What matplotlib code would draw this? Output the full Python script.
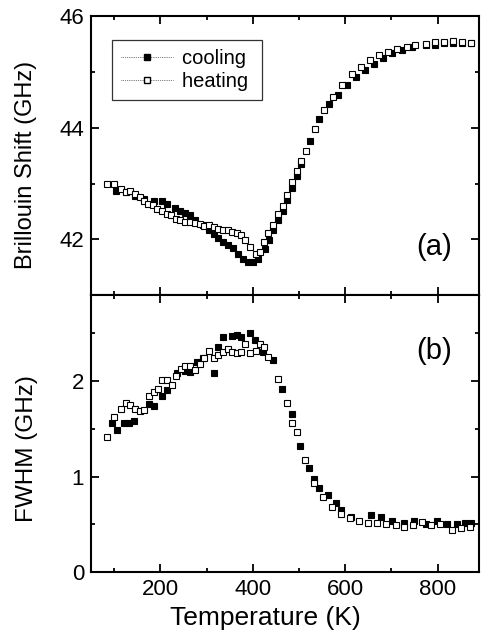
import matplotlib
matplotlib.use("Agg")
import matplotlib.pyplot as plt
from matplotlib.lines import Line2D
from matplotlib.ticker import MultipleLocator

plt.rcParams["font.family"] = ["Liberation Sans", "DejaVu Sans"]

# ================= DATA =================
# (a) Brillouin shift, heating (open squares)
heat_T_a = [85, 100, 114, 125, 135, 146, 155, 164, 173, 184, 193, 204, 214, 224, 234,
            243, 254, 265, 275, 286, 295, 305, 316, 325, 336, 346, 356, 365, 374, 384,
            395, 408, 415, 424, 434, 444, 455, 465, 475, 485, 495, 505, 515, 535, 555,
            574, 594, 614, 634, 654, 673, 693, 713, 733, 752, 774, 794, 813, 833, 852, 873]
heat_S_a = [42.99, 42.99, 42.90, 42.84, 42.86, 42.81, 42.75, 42.69, 42.63, 42.62, 42.54,
            42.51, 42.45, 42.43, 42.37, 42.34, 42.31, 42.31, 42.29, 42.28, 42.23, 42.25,
            42.22, 42.19, 42.16, 42.16, 42.14, 42.11, 42.07, 41.98, 41.86, 41.74, 41.77,
            41.95, 42.11, 42.26, 42.46, 42.59, 42.80, 43.02, 43.23, 43.41, 43.59, 43.98,
            44.31, 44.55, 44.76, 44.96, 45.09, 45.21, 45.30, 45.36, 45.41, 45.45, 45.48,
            45.50, 45.54, 45.54, 45.55, 45.53, 45.51]

# (a) Brillouin shift, cooling (filled squares)
cool_T_a = [103, 125, 146, 164, 186, 204, 214, 232, 243, 254, 265, 275, 293, 305, 316,
            325, 336, 347, 358, 368, 379, 390, 401, 412, 426, 435, 444, 455, 465, 475,
            485, 495, 505, 524, 544, 564, 584, 603, 623, 643, 662, 682, 702, 723, 745,
            774, 794, 813, 833, 852, 873]
cool_S_a = [42.87, 42.84, 42.78, 42.72, 42.69, 42.68, 42.63, 42.57, 42.51, 42.47, 42.43,
            42.34, 42.25, 42.16, 42.10, 42.02, 41.95, 41.89, 41.84, 41.74, 41.65, 41.59,
            41.59, 41.65, 41.83, 41.99, 42.16, 42.34, 42.51, 42.71, 42.92, 43.14, 43.35,
            43.77, 44.16, 44.43, 44.58, 44.76, 44.91, 45.03, 45.15, 45.24, 45.33, 45.39,
            45.45, 45.48, 45.48, 45.51, 45.52, 45.52, 45.51]

# (b) FWHM, heating (open squares)
heat_T_b = [85, 100, 114, 125, 135, 146, 155, 164, 175, 186, 195, 204, 214, 225, 234,
            244, 254, 265, 275, 286, 295, 305, 316, 325, 336, 346, 356, 365, 374, 384,
            395, 408, 415, 424, 434, 455, 475, 485, 495, 514, 533, 552, 572, 592, 611,
            631, 650, 670, 689, 709, 728, 747, 767, 786, 805, 831, 851, 870]
heat_F_b = [1.42, 1.63, 1.71, 1.77, 1.75, 1.71, 1.69, 1.70, 1.84, 1.89, 1.92, 2.01,
            2.01, 1.96, 2.05, 2.13, 2.16, 2.16, 2.12, 2.18, 2.24, 2.32, 2.24, 2.27, 2.31,
            2.34, 2.31, 2.29, 2.31, 2.39, 2.29, 2.32, 2.39, 2.36, 2.25, 2.02, 1.77, 1.56,
            1.47, 1.18, 0.93, 0.79, 0.68, 0.61, 0.57, 0.54, 0.52, 0.52, 0.50, 0.49, 0.47,
            0.49, 0.53, 0.49, 0.51, 0.44, 0.46, 0.47]

# (b) FWHM, cooling (filled squares)
cool_T_b = [95, 105, 122, 132, 143, 175, 186, 204, 214, 236, 254, 265, 279, 293, 315,
            325, 336, 354, 365, 375, 393, 404, 422, 444, 464, 484, 503, 522, 533, 543,
            562, 580, 592, 612, 657, 677, 702, 727, 750, 774, 799, 820, 842, 860, 873]
cool_F_b = [1.56, 1.49, 1.56, 1.56, 1.58, 1.76, 1.74, 1.84, 1.91, 2.09, 2.11, 2.10,
            2.20, 2.24, 2.08, 2.36, 2.46, 2.47, 2.48, 2.46, 2.50, 2.43, 2.31, 2.22, 1.92,
            1.66, 1.32, 1.09, 0.98, 0.88, 0.81, 0.72, 0.65, 0.58, 0.60, 0.58, 0.54, 0.52,
            0.54, 0.51, 0.54, 0.51, 0.51, 0.52, 0.52]

# ================= PLOTTING =================
fig = plt.figure(figsize=(4.82, 6.43), dpi=100)
ax_a = fig.add_axes([0.189, 0.541, 0.805, 0.434])
ax_b = fig.add_axes([0.189, 0.110, 0.805, 0.431], sharex=ax_a)

ms = 4.8
for ax in (ax_a, ax_b):
    for s in ax.spines.values():
        s.set_linewidth(1.5)
    ax.tick_params(which="both", direction="in", top=True, right=True,
                   width=1.3, labelsize=16, pad=5)
    ax.tick_params(which="major", length=6)
    ax.tick_params(which="minor", length=3)
    ax.xaxis.set_major_locator(MultipleLocator(200))
    ax.xaxis.set_minor_locator(MultipleLocator(100))

ax_a.plot(cool_T_a, cool_S_a, "s", ms=ms, mfc="black", mec="black", mew=0.8)
ax_a.plot(heat_T_a, heat_S_a, "s", ms=ms, mfc="white", mec="black", mew=0.8)
ax_b.plot(cool_T_b, cool_F_b, "s", ms=ms, mfc="black", mec="black", mew=0.8)
ax_b.plot(heat_T_b, heat_F_b, "s", ms=ms, mfc="white", mec="black", mew=0.8)

ax_a.set_xlim(50, 890)
ax_a.set_ylim(41, 46)
ax_a.yaxis.set_major_locator(MultipleLocator(2))
ax_a.yaxis.set_minor_locator(MultipleLocator(1))
ax_a.tick_params(labelbottom=False)
ax_a.set_ylabel("Brillouin Shift (GHz)", fontsize=17)
ax_a.yaxis.set_label_coords(-0.14, 0.466)
ax_a.text(0.93, 0.172, "(a)", transform=ax_a.transAxes, fontsize=21,
          ha="right", va="center")

ax_b.set_ylim(0, 2.9)
ax_b.yaxis.set_major_locator(MultipleLocator(1))
ax_b.yaxis.set_minor_locator(MultipleLocator(0.5))
ax_b.set_xlabel("Temperature (K)", fontsize=19)
ax_b.xaxis.set_label_coords(0.448, -0.122)
ax_b.set_ylabel("FWHM (GHz)", fontsize=17.5)
ax_b.yaxis.set_label_coords(-0.137, 0.448)
ax_b.text(0.93, 0.80, "(b)", transform=ax_b.transAxes, fontsize=21,
          ha="right", va="center")

handles = [
    Line2D([], [], color="black", lw=0.5, ls=":", marker="s", ms=ms,
           mfc="black", mec="black"),
    Line2D([], [], color="black", lw=0.5, ls=":", marker="s", ms=ms,
           mfc="white", mec="black"),
]
leg = ax_a.legend(handles, ["cooling ", "heating "], loc="upper left",
                  bbox_to_anchor=(0.054, 0.914), fontsize=14.5, frameon=True,
                  fancybox=False, edgecolor="black", handlelength=2.6,
                  handletextpad=0.4, borderpad=0.45, labelspacing=0.2,
                  borderaxespad=0)
leg.get_frame().set_linewidth(0.9)

fig.savefig("out.png", dpi=100)
